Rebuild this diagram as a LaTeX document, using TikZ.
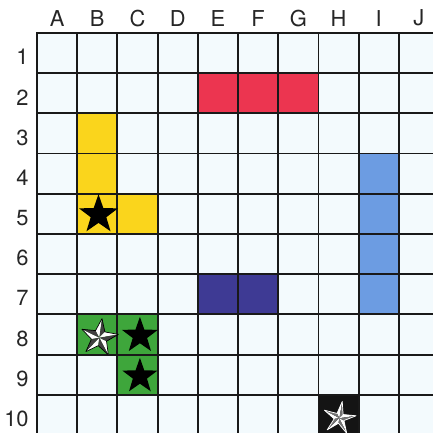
\documentclass[tikz,border=0pt]{standalone}
\usepackage{fontspec}
\setmainfont{TeX Gyre Heros}
\usetikzlibrary{shapes.geometric}

\definecolor{cellbg}{HTML}{F3FAFD}
\definecolor{shipred}{HTML}{EC3550}
\definecolor{shipyellow}{HTML}{FAD51C}
\definecolor{shipblue}{HTML}{6C9CE2}
\definecolor{shippurple}{HTML}{3E3A94}
\definecolor{shipgreen}{HTML}{3EA63B}
\definecolor{shipblack}{HTML}{141414}

\tikzset{
  gridline/.style={line width=1.3pt, black!90, line cap=rect},
  axislabel/.style={font=\fontsize{15.5}{18}\selectfont, text=black!85, inner sep=0pt},
  solidstar/.style={star, star points=5, star point ratio=2.5, fill=black, inner sep=0pt},
}

% nautical star: x, y, outer radius, inner radius, rotation, shade colour, outline colour
\newcommand{\navstar}[7]{%
  \begin{scope}[shift={(#1,#2)}, rotate=#5]
    \foreach \k in {0,...,4}{
      \pgfmathsetmacro\ta{90+72*\k}
      \pgfmathsetmacro\tl{\ta+36}
      \pgfmathsetmacro\tr{\ta-36}
      \fill[white] (0,0) -- (\ta:#3) -- (\tl:#4) -- cycle;
      \fill[#6] (0,0) -- (\ta:#3) -- (\tr:#4) -- cycle;
    }
    \draw[#7, line width=0.5pt, line join=round] (90:#3)
      \foreach \k in {0,...,4}{ -- ({126+72*\k}:#4) -- ({162+72*\k}:#3) } -- cycle;
  \end{scope}}

\begin{document}
\begin{tikzpicture}
  \useasboundingbox (-0.92,-9.95) rectangle (9.85,0.82);
  \clip (-0.92,-9.95) rectangle (9.85,0.82);

  % board
  \fill[cellbg] (0,0) rectangle (10.5,-10.5);
  \foreach \c/\r/\col in {5/2/shipred, 6/2/shipred, 7/2/shipred,
      2/3/shipyellow, 2/4/shipyellow, 2/5/shipyellow, 3/5/shipyellow,
      9/4/shipblue, 9/5/shipblue, 9/6/shipblue, 9/7/shipblue,
      5/7/shippurple, 6/7/shippurple,
      2/8/shipgreen, 3/8/shipgreen, 3/9/shipgreen,
      8/10/shipblack}
    \fill[\col] (\c-1,-\r) rectangle (\c,-\r+1);
  \draw[gridline] (0,0) grid (10.5,-10.5);

  % labels
  \foreach \l [count=\c] in {A,B,C,D,E,F,G,H,I,J}
    \node[axislabel] (col\c) at (\c-0.5,0.37) {\l};
  \foreach \r in {1,...,10}
    \node[axislabel, anchor=east] (row\r) at (-0.2,-\r+0.4) {\r};

  % hits
  \node[solidstar, minimum size=1.02cm] (hitBfive) at (1.53,-4.52) {};
  \node[solidstar, minimum size=0.94cm] (hitCeight) at (2.56,-7.53) {};
  \node[solidstar, minimum size=0.92cm] (hitCnine) at (2.56,-8.54) {};
  \navstar{1.55}{-7.58}{0.48}{0.2}{-8}{black!75}{black}
  \navstar{7.52}{-9.58}{0.42}{0.13}{-10}{black!55}{white}
\end{tikzpicture}
\end{document}
